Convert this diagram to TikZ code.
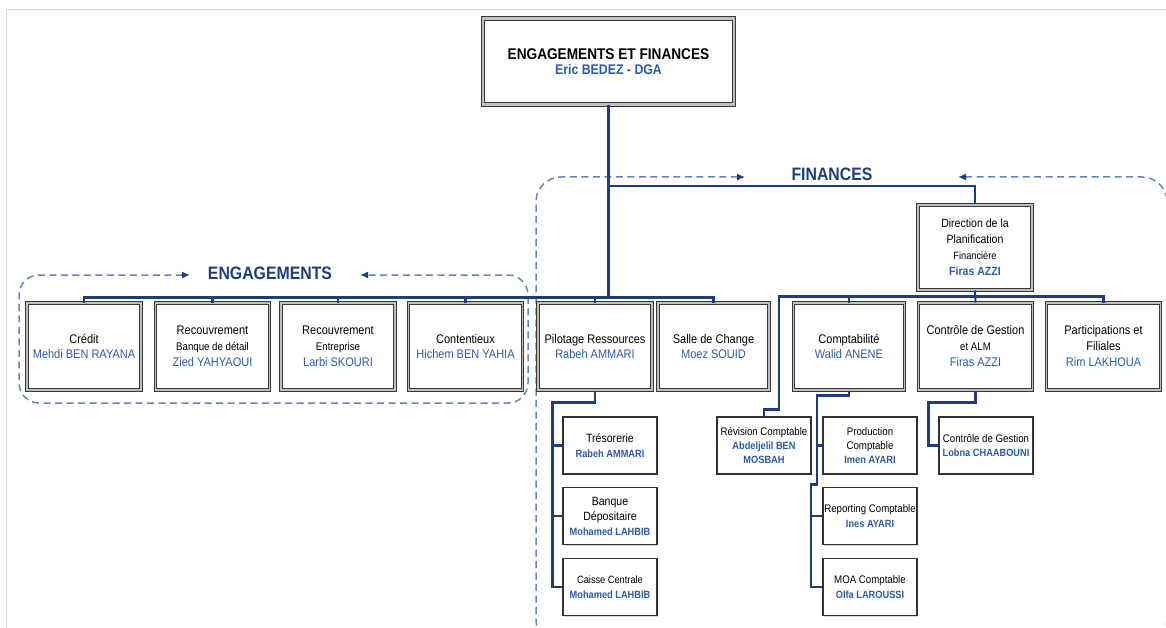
\documentclass[tikz,border=0pt]{standalone}
\usepackage{fontspec}
\setmainfont{Liberation Sans}[FakeStretch=0.88]
\usetikzlibrary{arrows.meta,calc,shadows}
\definecolor{navy}{HTML}{1F3D7C}
\definecolor{nameblue}{HTML}{2E5BA6}
\definecolor{grpblue}{HTML}{6384BC}
\definecolor{pageline}{HTML}{D9D9D9}
\newcommand\nm[1]{\textcolor{nameblue}{#1}}
\newcommand\nmb[1]{\textcolor{nameblue}{\bfseries #1}}
\newcommand\fs[2]{\fontsize{#1}{#2}\selectfont}

\begin{document}
\begin{tikzpicture}[x=1pt,y=-1pt,
  link/.style={draw=navy,line width=2.1pt},
  grp/.style={draw=grpblue,line width=1.5pt,dash pattern=on 7pt off 4.5pt,rounded corners=#1},
  tip/.style={{Latex[length=8pt,width=7pt,color=navy]}-{Latex[length=8pt,width=7pt,color=navy]}},
  grplabel/.style={text=navy,font=\fs{18}{18}\bfseries},
  mainbox/.style={draw=black!78,line width=1pt,double=black!25,double distance=1.5pt,
    fill=white,minimum width=114pt,minimum height=87pt,align=center,inner sep=2pt,
    font=\fs{12.5}{15}},
  subbox/.style={draw=black!80,line width=1.1pt,fill=white,minimum width=94pt,minimum height=57pt,
    align=center,inner sep=1pt,font=\fs{12}{14.5},
    drop shadow={shadow xshift=1pt,shadow yshift=-1pt,opacity=0.3}}
]
\useasboundingbox (0,0) rectangle (1166,628);
\clip (0,0) rectangle (1166,628);

% page edge
\draw[pageline,line width=1pt] (6,628) -- (6,10) -- (1166,10);

% group outlines
\draw[grp=20pt,tip] (190,275) -- (19,275) -- (19,403) -- (528,403) -- (528,275) -- (360,275);
\draw[grp=25pt,tip] (745,177) -- (536,177) -- (536,645) -- (1167,645) -- (1167,177) -- (958,177);
\node[grplabel] (englabel) at (270,273) {ENGAGEMENTS};
\node[grplabel] (finlabel) at (832,174) {FINANCES};

% head
\node[mainbox,minimum width=251pt,minimum height=86pt,double distance=2.2pt] (top) at (608.5,61.5)
  {\fs{15.5}{20}\bfseries ENGAGEMENTS ET FINANCES\\ \fs{14}{19}\nmb{Eric BEDEZ - DGA}};

\node[mainbox,minimum height=85pt,font=\fs{12}{16}] (dir) at (975,247.5)
  {Direction de la\\ Planification\\ {\fs{10.5}{16}Financière}\\ \nmb{Firas AZZI}};

% first level
\node[mainbox] (credit) at (84,346.5) {Crédit\\ \nm{Mehdi BEN RAYANA}};
\node[mainbox,font=\fs{12.5}{16}] (recdet) at (212.5,346.5) {Recouvrement\\ {\fs{11}{16}Banque de détail}\\ \nm{Zied YAHYAOUI}};
\node[mainbox,font=\fs{12.5}{16}] (recent) at (338,346.5) {Recouvrement\\ {\fs{11}{16}Entreprise}\\ \nm{Larbi SKOURI}};
\node[mainbox] (content) at (465.5,346.5) {Contentieux\\ \nm{Hichem BEN YAHIA}};
\node[mainbox] (pilot) at (595,346.5) {Pilotage Ressources\\ \nm{Rabeh AMMARI}};
\node[mainbox,minimum width=111pt] (salle) at (713.5,346.5) {Salle de Change\\ \nm{Moez SOUID}};
\node[mainbox,minimum width=111pt] (compta) at (849,346.5) {Comptabilité\\ \nm{Walid ANENE}};
\node[mainbox,font=\fs{12.5}{16}] (ctrl) at (975.5,346.5) {Contrôle de Gestion\\ {\fs{11}{16}et ALM}\\ \nm{Firas AZZI}};
\node[mainbox,font=\fs{12.5}{16}] (partic) at (1103.5,346.5) {Participations et\\ Filiales\\ \nm{Rim LAKHOUA}};

% second level
\node[subbox] (treso) at (610,445.5) {Trésorerie\\ {\fs{10.5}{14.5}\nmb{Rabeh AMMARI}}};
\node[subbox,font=\fs{12}{15}] (banque) at (610,516) {Banque\\ Dépositaire\\ {\fs{10.5}{16}\nmb{Mohamed LAHBIB}}};
\node[subbox] (caisse) at (610,587) {{\fs{10.5}{14.5}Caisse Centrale}\\ {\fs{10.5}{14.5}\nmb{Mohamed LAHBIB}}};
\node[subbox,font=\fs{11}{14}] (revis) at (764,445.5) {Révision Comptable\\ {\fs{10.5}{14}\nmb{Abdeljelil BEN}}\\ {\fs{10.5}{14}\nmb{MOSBAH}}};
\node[subbox,font=\fs{11}{14}] (prod) at (870,445.5) {Production\\ Comptable\\ {\fs{10.5}{14}\nmb{Imen AYARI}}};
\node[subbox,font=\fs{11}{15}] (report) at (870,516) {Reporting Comptable\\ {\fs{10.5}{15}\nmb{Ines AYARI}}};
\node[subbox,font=\fs{11}{14.5}] (moa) at (870,587) {MOA Comptable\\ {\fs{10.5}{14.5}\nmb{Olfa LAROUSSI}}};
\node[subbox,font=\fs{11}{14}] (ctrlsub) at (986,445.5) {Contrôle de Gestion\\ {\fs{10.5}{14}\nmb{Lobna CHAABOUNI}}};

% connectors: head and buses
\coordinate (fj) at (608.5,186);
\draw[link] (top.south) -- ($(top.south |- credit.north)+(0,-5)$);
\draw[link] (fj) -| (dir.north);
\draw[link] (credit.north) -- ++(0,-5) -| (salle.north);
\foreach \b in {recdet,recent,content,pilot} \draw[link] (\b.north) -- ++(0,-5);
\draw[link] (revis.north) -- ++(0,-7) -| ++(15,-113) -| (partic.north);
\draw[link] (dir.south) -- (ctrl.north);
\draw[link] (compta.north) -- ++(0,-6);

% connectors: second level
\draw[link] (pilot.south) -- ++(0,12) -| ($(caisse.west)+(-10,0)$) -- (caisse.west);
\draw[link] (treso.west) -- ++(-10,0);
\draw[link] (banque.west) -- ++(-10,0);

\draw[link] (compta.south) -- ++(0,5) -| ++(-32,89) -- ++(-6,0) |- (moa.west);
\draw[link] (prod.west) -- ++(-6,0);
\draw[link] (report.west) -- ++(-12,0);

\draw[link] (ctrl.south) -- ++(0,12) -| ($(ctrlsub.west)+(-10,0)$) -- (ctrlsub.west);
\end{tikzpicture}
\end{document}
